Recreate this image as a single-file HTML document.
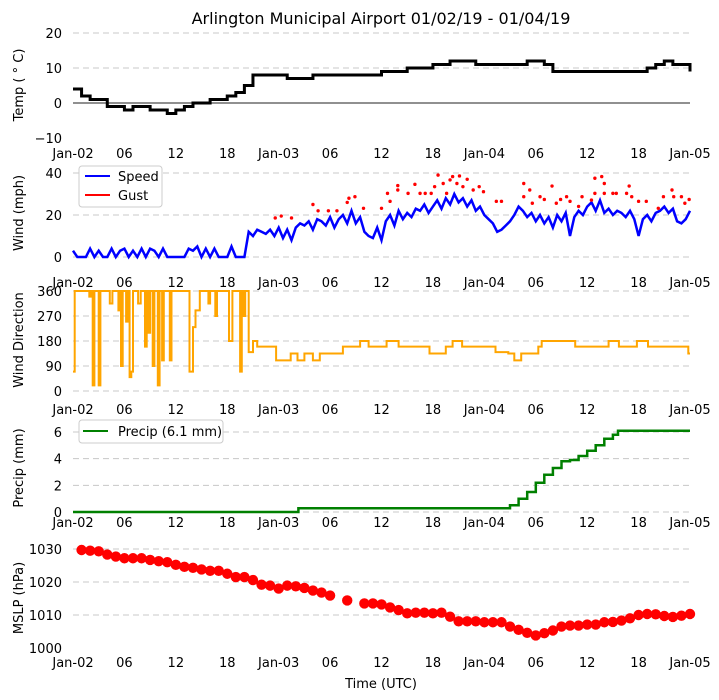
<!DOCTYPE html>
<html><head><meta charset="utf-8"><style>
html,body{margin:0;padding:0;background:#fff;}
svg{display:block;font-family:"DejaVu Sans","Liberation Sans",sans-serif;}
</style></head><body>
<svg id="chart" width="719" height="700" viewBox="0 0 719 700" xmlns="http://www.w3.org/2000/svg">
<text x="381" y="24" font-size="16" text-anchor="middle">Arlington Municipal Airport 01/02/19 - 01/04/19</text>
<text x="381" y="688" font-size="13" text-anchor="middle">Time (UTC)</text>
<g id="layer"></g>
</svg>
<script>
const tickHours=[0,6,12,18,24,30,36,42,48,54,60,66,72];
const tickLabels=["Jan-02","06","12","18","Jan-03","06","12","18","Jan-04","06","12","18","Jan-05"];
const tempVals=[4,2,1,1,-1,-1,-2,-1,-1,-2,-2,-3,-2,-1,0,0,1,1,2,3,5,8,8,8,8,7,7,7,8,8,8,8,8,8,8,8,9,9,9,10,10,10,11,11,12,12,12,11,11,11,11,11,11,12,12,11,9,9,9,9,9,9,9,9,9,9,9,10,11,12,11,11,9];
const windSpeed=[3,0,0,0,4,0,3,0,0,4,0,3,4,0,3,0,4,0,4,3,0,4,0,0,0,0,0,4,3,5,0,4,0,4,0,0,0,5,0,0,0,
12,10,13,12,11,13,10,14,9,13,8,14,16,15,17,13,18,17,15,19,14,18,20,16,22,16,19,12,10,9,14,8,
17,20,15,22,18,21,19,23,22,25,21,24,27,23,28,25,30,26,28,24,27,22,24,20,18,16,12,13,15,17,20,24,
22,19,21,17,20,16,19,14,20,17,21,10,19,22,20,24,26,22,27,21,23,20,22,21,19,22,18,10,18,20,17,21,22,24,21,23,17,16,18,22];
const gustHours=[23.6,24.3,25.5,28,28.6,29.8,30.8,32,32.2,32.9,33.9,36,36.7,37,37.9,37.9,39.1,39.9,40.5,41.1,41.8,42.2,42.6,43.2,43.6,44,44.3,44.8,45.1,45.5,46,46.7,47.4,47.9,49.4,50,52.6,52.6,53.3,53.6,54.5,55,55.9,56.4,56.9,57.6,58,59,59.4,60.5,60.9,60.9,61.7,62,62,63,63.4,64.6,64.9,65.2,66,66.9,68.3,68.9,69.9,70.1,71,71.4,71.9];
const gustVals=[18.6,19.5,18.6,25,22,22,22,26,28,28.7,23.2,23.2,30.3,26.5,31.9,34,30.3,34.6,30.3,30.3,30.3,33.5,39,35,30.3,36.7,38.3,35,38.6,33.5,37,31.9,33.5,31.1,26.5,26.5,35,28.7,31.9,25.6,28.7,27.4,33.8,25.6,27.4,28.7,26.5,24.1,28.7,27.1,37.5,30.3,38.3,35,30.3,30.3,30.3,30.3,33.8,28.7,26.5,26.5,23.2,28.7,31.9,28.7,28.7,25.6,27.4];
const dirHours=[0,0.2,1.9,2.1,2.3,2.5,3.0,3.2,4.3,4.6,5.3,5.5,5.6,5.8,6.2,6.4,6.6,6.8,7.0,7.2,7.6,7.9,8.4,8.6,8.8,9.0,9.3,9.5,9.9,10.1,10.4,10.6,11.3,11.5,13.6,14.0,14.3,14.8,15.0,15.8,16.0,16.6,16.8,18.2,18.6,19.5,19.7,19.9,20.1,20.5,21,21.5,22.2,23.7,24.2,24.6,25.4,26.2,27,28,28.8,31.5,33.5,34.5,35.4,36.6,38,40,41.6,43.5,44.3,45.4,49.3,50.8,51.5,52.3,53,54.3,54.7,57,58.6,62.5,63.7,65.8,67.1,71.8];
const dirVals=[70,360,340,360,20,360,20,360,315,360,290,360,90,360,250,360,50,70,360,360,315,360,160,360,210,360,90,360,20,360,110,360,110,360,70,230,290,360,360,315,360,270,360,180,360,70,360,270,360,140,180,160,160,110,110,110,135,110,135,110,135,160,180,160,160,180,160,160,135,160,180,160,140,135,110,135,135,160,180,180,160,180,160,180,160,135];
const precipHours=[0,26.3,50.4,51,52,53,54,55,56,57,58,59,60,61,62,63,63.6,72];
const precipVals=[0,0.28,0.28,0.5,1.0,1.5,2.2,2.8,3.3,3.8,3.9,4.2,4.6,5.0,5.5,5.8,6.1,6.1];
const mslpHours=[1,2,3,4,5,6,7,8,9,10,11,12,13,14,15,16,17,18,19,20,21,22,23,24,25,26,27,28,29,30,32,34,35,36,37,38,39,40,41,42,43,44,45,46,47,48,49,50,51,52,53,54,55,56,57,58,59,60,61,62,63,64,65,66,67,68,69,70,71,72];
const mslpVals=[1029.7,1029.5,1029.3,1028.3,1027.7,1027.2,1027.2,1027.2,1026.7,1026.3,1026,1025.2,1024.6,1024.3,1023.8,1023.4,1023.4,1022.5,1021.5,1021.5,1020.6,1019.2,1018.9,1018,1018.9,1018.7,1018.2,1017.4,1016.8,1015.9,1014.4,1013.5,1013.5,1013.2,1012.3,1011.5,1010.5,1010.7,1010.7,1010.5,1010.7,1009.5,1008.1,1008.1,1008.1,1007.8,1007.8,1007.8,1006.5,1005.5,1004.6,1003.8,1004.5,1005.3,1006.5,1006.8,1006.8,1007.1,1007.1,1007.8,1007.9,1008.3,1009,1010,1010.3,1010.2,1009.7,1009.4,1009.8,1010.3];

const NS="http://www.w3.org/2000/svg";
const layer=document.getElementById('layer');
const X0=73,X1=690;
function xs(h){return X0+h*(X1-X0)/72;}
function lin(v0,y0,v1,y1){return v=>y0+(v-v0)*(y1-y0)/(v1-v0);}
function mk(tag,attrs,parent){const e=document.createElementNS(NS,tag);for(const k in attrs)e.setAttribute(k,attrs[k]);(parent||layer).appendChild(e);return e;}

const panels=[
 {name:'temp',y:lin(20,33,-10,138),ticks:[20,10,0,-10],grid:[20,10],xl:158,ty:85},
 {name:'wind',y:lin(0,257,40,173),ticks:[40,20,0],grid:[40,20,0],xl:287,ty:213},
 {name:'direction',y:lin(0,391,360,291),ticks:[360,270,180,90,0],grid:[360,270,180,90,0],xl:414,ty:340},
 {name:'precip',y:lin(0,512,6,432),ticks:[6,4,2,0],grid:[6,4,2,0],xl:527,ty:468},
 {name:'mslp',y:lin(1000,648,1030,549),ticks:[1030,1020,1010,1000],grid:[1030,1020,1010],xl:667,ty:598}
];
const ytitles=['Temp ( ° C)','Wind (mph)','Wind Direction','Precip (mm)','MSLP (hPa)'];
panels.forEach((p,i)=>{
 const g=mk('g',{});
 
 
 p.grid.forEach(v=>{
  const l=mk('line',{x1:X0,x2:X1,y1:p.y(v),y2:p.y(v),stroke:'#c8c8c8','stroke-width':1,'stroke-dasharray':'6,4'},g);
  
  
 });
 p.ticks.forEach(v=>{
  const t=mk('text',{x:62,y:p.y(v)+5,'font-size':13,'text-anchor':'end'},g);
  t.textContent=(v<0?'\u2212'+(-v):v);
  
  
 });
 tickHours.forEach((h,j)=>{
  const t=mk('text',{x:xs(h),y:p.xl,'font-size':13,'text-anchor':'middle'},g);
  t.textContent=tickLabels[j];
  
  
 });
 const yt=mk('text',{x:0,y:0,'font-size':13,'text-anchor':'middle',transform:`translate(23,${p.ty}) rotate(-90)`},g);
 yt.textContent=ytitles[i];
 
 
});

{
 const y=panels[0].y;
 const zl=mk('line',{x1:X0,x2:X1,y1:y(0),y2:y(0),stroke:'#222','stroke-width':1});
 
 
 let d='';
 tempVals.forEach((v,h)=>{
  const nx=xs(Math.min(h+1,72));
  d+=(h===0?'M':'L')+xs(h)+','+y(v)+' L'+(h<72?nx:xs(h))+','+y(v)+' ';
 });
 const pth=mk('path',{d:d,fill:'none',stroke:'#000','stroke-width':3});
 
 
}
{
 const y=panels[1].y;
 let d='';
 windSpeed.forEach((v,i)=>{d+=(i===0?'M':'L')+xs(i*0.5).toFixed(1)+','+y(v).toFixed(1)+' ';});
 const pth=mk('path',{d:d,fill:'none',stroke:'#0000ff','stroke-width':2.5});
 
 
 gustHours.forEach((h,i)=>{
  const c=mk('circle',{cx:xs(h),cy:y(gustVals[i]),r:1.7,fill:'#ff0000'});
  
  
 });
 const lg=mk('g',{});
 
 
 mk('rect',{x:79,y:166,width:83,height:41,rx:3,fill:'#fff',stroke:'#ccc'},lg);
 mk('line',{x1:85,x2:110,y1:176,y2:176,stroke:'#0000ff','stroke-width':2},lg);
 mk('line',{x1:85,x2:110,y1:195,y2:195,stroke:'#ff0000','stroke-width':2},lg);
 const t1=mk('text',{x:118,y:181,'font-size':13},lg);t1.textContent='Speed';
 
 
 const t2=mk('text',{x:118,y:200,'font-size':13},lg);t2.textContent='Gust';
 
 
}
{
 const y=panels[2].y;
 let d='';
 dirHours.forEach((h,i)=>{
  const nh=i<dirHours.length-1?dirHours[i+1]:72;
  d+=(i===0?'M':'L')+xs(h).toFixed(1)+','+y(dirVals[i]).toFixed(1)+' L'+xs(nh).toFixed(1)+','+y(dirVals[i]).toFixed(1)+' ';
 });
 const pth=mk('path',{d:d,fill:'none',stroke:'#ffa500','stroke-width':2});
 
 
}
{
 const y=panels[3].y;
 let d='';
 precipHours.forEach((h,i)=>{
  const nh=i<precipHours.length-1?precipHours[i+1]:72;
  d+=(i===0?'M':'L')+xs(h).toFixed(1)+','+y(precipVals[i]).toFixed(1)+' L'+xs(nh).toFixed(1)+','+y(precipVals[i]).toFixed(1)+' ';
 });
 const pth=mk('path',{d:d,fill:'none',stroke:'#008000','stroke-width':2.5});
 
 
 const lg=mk('g',{});
 
 
 mk('rect',{x:79,y:420,width:144,height:23,rx:3,fill:'#fff',stroke:'#ccc'},lg);
 mk('line',{x1:83,x2:108,y1:431,y2:431,stroke:'#008000','stroke-width':2},lg);
 const t=mk('text',{x:118,y:436,'font-size':13},lg);t.textContent='Precip (6.1 mm)';
 
 
}
{
 const y=panels[4].y;
 mslpHours.forEach((h,i)=>{
  const c=mk('circle',{cx:xs(h),cy:y(mslpVals[i]),r:5.2,fill:'#ff0000'});
  
  
 });
}
</script>
</body></html>
